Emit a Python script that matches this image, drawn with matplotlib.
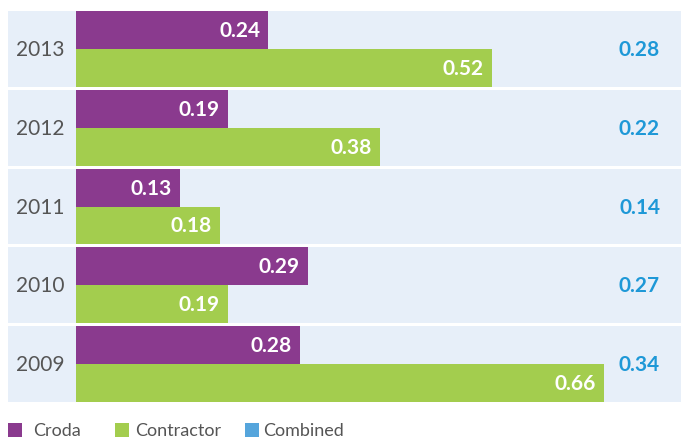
import matplotlib.pyplot as plt
from matplotlib.patches import Rectangle

years = ["2013", "2012", "2011", "2010", "2009"]
croda = [0.24, 0.19, 0.13, 0.29, 0.28]
contractor = [0.52, 0.38, 0.18, 0.19, 0.66]
combined = [0.28, 0.22, 0.14, 0.27, 0.34]
series_names = ["Croda", "Contractor", "Combined"]

PURPLE = "#8a3a8e"
GREEN = "#a3cd4e"
BLUE_TXT = "#1e98d7"
BLUE_KEY = "#55a5dc"
PANEL = "#e7eff9"
GREY = "#555555"

plt.rcParams["font.family"] = ["Lato", "DejaVu Sans"]

W, H = 683, 439
fig = plt.figure(figsize=(W / 100, H / 100), dpi=100)

# axes spans the panel area in pixels
left_px, right_px, top_px, bot_px = 8, 681, 11, 404
ax = fig.add_axes([left_px / W, 1 - bot_px / H, (right_px - left_px) / W, (bot_px - top_px) / H])

scale = 800.0  # pixels per unit
zero_px = 76
xmin = -(zero_px - left_px) / scale
xmax = (right_px - zero_px) / scale
ax.set_xlim(xmin, xmax)
ax.set_ylim(len(years) - 0.5, -0.5)
ax.axis("off")

ph = 0.962
bh = ph / 2
rows = range(len(years))

ax.barh(list(rows), [xmax - xmin] * len(years), left=xmin, height=ph, color=PANEL, zorder=0)
ax.barh([r - bh / 2 for r in rows], croda, height=bh, color=PURPLE, zorder=2)
ax.barh([r + bh / 2 for r in rows], contractor, height=bh, color=GREEN, zorder=2)

pad = 8 / scale
for r, y, a, b, c in zip(rows, years, croda, contractor, combined):
    ax.text((40 - zero_px) / scale, r, y, ha="center", va="center", fontsize=15, color=GREY)
    ax.text(a - pad, r - bh / 2, f"{a:.2f}", ha="right", va="center", fontsize=15,
            fontweight="bold", color="white", zorder=3)
    ax.text(b - pad, r + bh / 2, f"{b:.2f}", ha="right", va="center", fontsize=15,
            fontweight="bold", color="white", zorder=3)
    ax.text((660 - zero_px) / scale, r, f"{c:.2f}", ha="right", va="center", fontsize=15,
            fontweight="bold", color=BLUE_TXT, zorder=3)

# legend keys along the bottom edge
key_x = [8, 115, 245]
text_x = [33, 135, 263]
key_colors = [PURPLE, GREEN, BLUE_KEY]
key_size = 14
key_top = 424
for kx, tx, kc, name in zip(key_x, text_x, key_colors, series_names):
    fig.add_artist(Rectangle((kx / W, 1 - (key_top + key_size) / H), key_size / W, key_size / H,
                             transform=fig.transFigure, color=kc, lw=0))
    fig.text(tx / W, 1 - (key_top + key_size / 2) / H, name,
             ha="left", va="center", fontsize=13, color=GREY)

fig.savefig("out.png", dpi=100)
